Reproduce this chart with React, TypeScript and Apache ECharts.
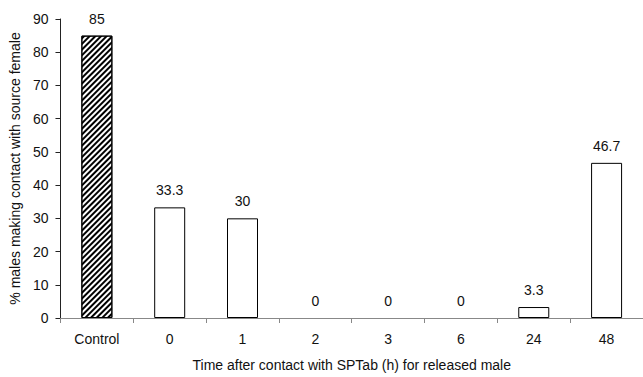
import React, { useEffect, useRef } from "react";
import * as echarts from "echarts";

const categories = ["Control", "0", "1", "2", "3", "6", "24", "48"];
const values = [85, 33.3, 30, 0, 0, 0, 3.3, 46.7];
const yTicks = { min: 0, max: 90, interval: 10 };
const xTitle = "Time after contact with SPTab (h) for released male";
const yTitle = "% males making contact with source female";

export default function App() {
  const ref = useRef<HTMLDivElement>(null);
  useEffect(() => {
    if (!ref.current) return;
    const chart = echarts.init(ref.current, null, { renderer: "svg" });
    const font = "Liberation Sans, Arial, sans-serif";
    const data = values.map((v, i) => {
      if (i === 0) {
        return {
          value: v,
          itemStyle: {
            color: "#fff",
            decal: {
              symbol: "rect",
              color: "#000",
              backgroundColor: "#fff",
              dashArrayX: [1, 0],
              dashArrayY: [2, 1.5],
              rotation: -Math.PI / 4,
              symbolSize: 1,
            },
          },
        };
      }
      if (v === 0) return { value: v, itemStyle: { borderWidth: 0 } };
      return { value: v };
    });
    chart.setOption({
      animation: false,
      backgroundColor: "#fff",
      grid: { left: 57, right: -9, top: 19, bottom: 54, containLabel: false },
      xAxis: {
        type: "category",
        data: categories,
        name: xTitle,
        nameLocation: "middle",
        nameGap: 40,
        nameTextStyle: { color: "#111", fontSize: 14, fontFamily: font },
        axisLine: { lineStyle: { color: "#888", width: 1 } },
        axisTick: { show: true, length: 5, lineStyle: { color: "#888" }, alignWithLabel: false },
        axisLabel: { color: "#111", fontSize: 14, fontFamily: font, margin: 14 },
      },
      yAxis: {
        type: "value",
        min: yTicks.min,
        max: yTicks.max,
        interval: yTicks.interval,
        name: yTitle,
        nameLocation: "middle",
        nameGap: 33,
        nameTextStyle: { color: "#111", fontSize: 14, fontFamily: font },
        axisLine: { show: true, lineStyle: { color: "#222", width: 1 } },
        axisTick: { show: true, length: 5, lineStyle: { color: "#222" } },
        axisLabel: { color: "#111", fontSize: 14, fontFamily: font, margin: 12 },
        splitLine: { show: false },
      },
      series: [
        {
          type: "bar",
          data,
          barWidth: 31,
          itemStyle: { color: "#fff", borderColor: "#000", borderWidth: 1 },
          label: {
            show: true,
            position: "top",
            distance: 10,
            color: "#111",
            fontSize: 14,
            fontFamily: font,
          },
        },
      ],
    });
    return () => chart.dispose();
  }, []);
  return (
    <div
      ref={ref}
      style={{ position: "absolute", left: 0, top: 0, width: 643, height: 377 }}
    />
  );
}
